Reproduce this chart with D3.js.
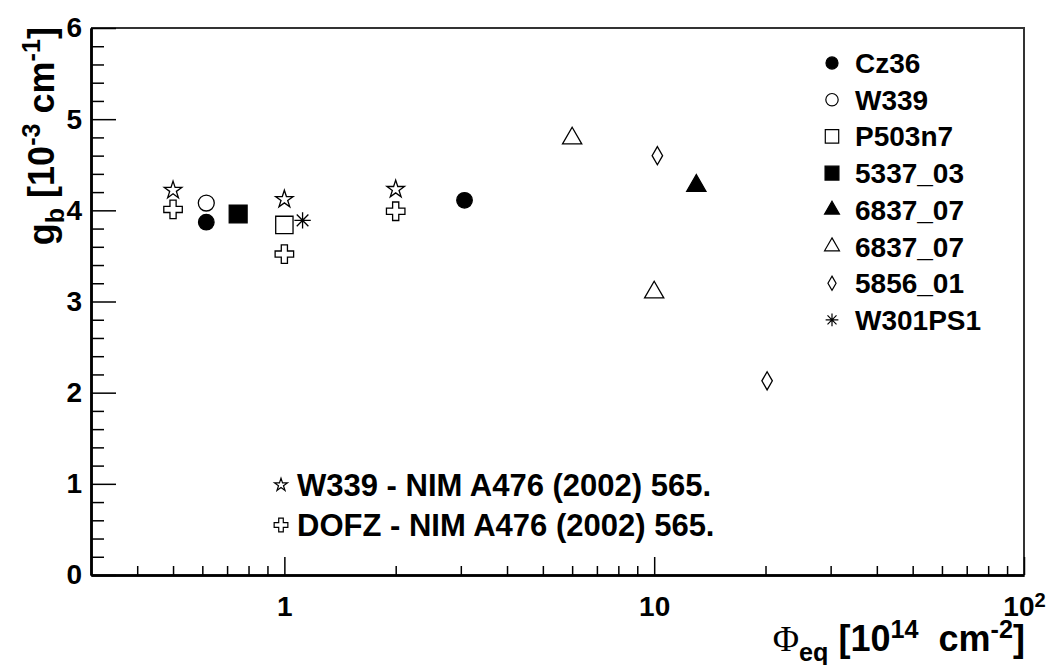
<!DOCTYPE html>
<html>
<head>
<meta charset="utf-8">
<script src="https://cdn.jsdelivr.net/npm/d3@7"></script>
<style>
  body { margin: 0; background: #fff; }
  svg { display: block; font-family: "Liberation Sans", Arial, sans-serif; font-weight: bold; }
  text { white-space: pre; }
</style>
</head>
<body>
<div id="chart"></div>
<script>
// Data: [fluence 1e14 cm^-2, g_b 1e-3 cm^-1]
const cz36 = [[0.615, 3.87], [3.07, 4.11]];
const w339 = [[0.615, 4.08]];
const p503n7 = [[1.0, 3.84]];
const s5337_03 = [[0.75, 3.96]];
const s6837_07_filled = [[13.0, 4.27]];
const s6837_07_open = [[6.0, 4.79], [10.0, 3.10]];
const s5856_01 = [[10.2, 4.60], [20.2, 2.13]];
const w301ps1 = [[1.12, 3.89]];
const w339Ref = [[0.5, 4.22], [1.0, 4.12], [2.0, 4.23]];
const dofzRef = [[0.5, 4.01], [1.0, 3.52], [2.0, 3.99]];

const xMajor = [1, 10, 100];
const xMinor = [0.4, 0.5, 0.6, 0.7, 0.8, 0.9, 2, 3, 4, 5, 6, 7, 8, 9, 20, 30, 40, 50, 60, 70, 80, 90];
const yMajor = [0, 1, 2, 3, 4, 5, 6];
const yMinor = d3.range(0, 30).map(i => +(i * 0.2).toFixed(1)).filter(v => v % 1 !== 0);

const legendNames = ['Cz36', 'W339', 'P503n7', '5337_03', '6837_07', '6837_07', '5856_01', 'W301PS1'];
const refNames = ['W339 - NIM A476 (2002) 565.', 'DOFZ - NIM A476 (2002) 565.'];

// Set up SVG dimensions
const width = 1049;
const height = 665;
const mLeft = 91, mRight = 1024, mTop = 28, mBottom = 575;

const svg = d3.select('#chart').append('svg')
    .attr('width', width)
    .attr('height', height);

const x = d3.scaleLog().domain([0.3, 100]).range([mLeft, mRight]);
const y = d3.scaleLinear().domain([0, 6]).range([mBottom, mTop]);

// asterisk marker (ROOT style *)
const asterisk = {
    draw(ctx, size) {
        const r = Math.sqrt(size) / 2;
        const d = r * Math.SQRT1_2;
        ctx.moveTo(-r, 0); ctx.lineTo(r, 0);
        ctx.moveTo(0, -r); ctx.lineTo(0, r);
        ctx.moveTo(-d, -d); ctx.lineTo(d, d);
        ctx.moveTo(-d, d); ctx.lineTo(d, -d);
    }
};

const series = [
    { name: legendNames[0], type: d3.symbolCircle, size: 190, fill: true, pts: cz36 },
    { name: legendNames[1], type: d3.symbolCircle, size: 200, fill: false, pts: w339 },
    { name: legendNames[2], type: d3.symbolSquare, size: 300, fill: false, pts: p503n7 },
    { name: legendNames[3], type: d3.symbolSquare, size: 320, fill: true, pts: s5337_03 },
    { name: legendNames[4], type: d3.symbolTriangle, size: 160, fill: true, pts: s6837_07_filled },
    { name: legendNames[5], type: d3.symbolTriangle, size: 160, fill: false, pts: s6837_07_open },
    { name: legendNames[6], type: d3.symbolDiamond, size: 95, fill: false, pts: s5856_01 },
    { name: legendNames[7], type: asterisk, size: 270, fill: false, pts: w301ps1 }
];
const refs = [
    { name: refNames[0], type: d3.symbolStar, size: 95, fill: false, pts: w339Ref },
    { name: refNames[1], type: d3.symbolCross, size: 190, fill: false, pts: dofzRef }
];

// Frame (top and right)
svg.append('path')
    .attr('d', `M${mLeft},${mTop}H${mRight}V${mBottom}`)
    .attr('fill', 'none')
    .attr('stroke', '#333')
    .attr('stroke-width', 2);

// X axis
function styleAxis(g) {
    g.attr('font-size', 28).attr('font-family', null);
    g.selectAll('.tick line').attr('stroke', '#000').attr('stroke-width', 1.5);
    g.select('.domain').attr('stroke', '#000').attr('stroke-width', 2.5);
    g.selectAll('.tick text').attr('fill', '#000');
}

svg.append('g')
    .attr('transform', `translate(0,${mBottom})`)
    .call(d3.axisBottom(x).tickValues(xMinor).tickSize(-9).tickSizeOuter(0).tickFormat(''))
    .call(styleAxis);

svg.append('g')
    .attr('transform', `translate(0,${mBottom})`)
    .call(d3.axisBottom(x).tickValues(xMajor).tickSize(-18).tickSizeOuter(0).tickPadding(21)
        .tickFormat(d => d === 100 ? '10' : d3.format('d')(d)))
    .call(styleAxis)
    .call(g => g.selectAll('.tick text').filter(d => d === 100)
        .append('tspan').attr('dy', '-0.45em').attr('font-size', '0.72em').text('2'));

// Y axis
svg.append('g')
    .attr('transform', `translate(${mLeft},0)`)
    .call(d3.axisLeft(y).tickValues(yMinor).tickSize(-13).tickSizeOuter(0).tickFormat(''))
    .call(styleAxis);

svg.append('g')
    .attr('transform', `translate(${mLeft},0)`)
    .call(d3.axisLeft(y).tickValues(yMajor).tickSize(-25).tickSizeOuter(0).tickPadding(9)
        .tickFormat(d3.format('d')))
    .call(styleAxis);

// Axis titles
const xt = svg.append('text')
    .attr('x', mRight + 1)
    .attr('y', 651)
    .attr('text-anchor', 'end')
    .attr('font-size', 36);
xt.append('tspan').attr('font-family', '"Liberation Serif", serif').attr('font-weight', 'normal').text('Φ');
xt.append('tspan').attr('font-size', '0.7em').attr('dy', '0.4em').text('eq');
xt.append('tspan').attr('dy', '-0.28em').text(' [10');
xt.append('tspan').attr('font-size', '0.7em').attr('dy', '-0.5em').text('14');
xt.append('tspan').attr('dy', '0.35em').text('  cm');
xt.append('tspan').attr('font-size', '0.7em').attr('dy', '-0.5em').text('-2');
xt.append('tspan').attr('dy', '0.35em').text(']');

const yt = svg.append('text')
    .attr('transform', 'translate(54,27) rotate(-90)')
    .attr('text-anchor', 'end')
    .attr('font-size', 36);
yt.append('tspan').text('g');
yt.append('tspan').attr('font-size', '0.7em').attr('dy', '0.4em').text('b');
yt.append('tspan').attr('dy', '-0.28em').text(' [10');
yt.append('tspan').attr('font-size', '0.7em').attr('dy', '-0.55em').text('-3');
yt.append('tspan').attr('dy', '0.385em').text(' cm');
yt.append('tspan').attr('font-size', '0.7em').attr('dy', '-0.55em').text('-1');
yt.append('tspan').attr('dy', '0.385em').text(']');

// Data markers
const sym = d3.symbol();
function drawMarkers(list) {
    list.forEach(s => {
        svg.append('g').selectAll('path')
            .data(s.pts)
            .enter().append('path')
            .attr('transform', d => `translate(${x(d[0])},${y(d[1])})`)
            .attr('d', sym.type(s.type).size(s.size)())
            .attr('fill', s.fill ? '#000' : '#fff')
            .attr('stroke', '#000')
            .attr('stroke-width', 1.3);
    });
}
drawMarkers(refs);
drawMarkers(series);

// Legend (top right)
const legend = svg.append('g').attr('transform', 'translate(832,63)');
const rows = legend.selectAll('g')
    .data(series)
    .enter().append('g')
    .attr('transform', (d, i) => `translate(0,${i * 36.7})`);
rows.append('path')
    .attr('d', d => sym.type(d.type).size(d.size * 0.6)())
    .attr('fill', d => d.fill ? '#000' : '#fff')
    .attr('stroke', '#000')
    .attr('stroke-width', 1.2);
rows.append('text')
    .attr('x', 23)
    .attr('y', 10)
    .attr('font-size', 28)
    .text(d => d.name);

// Reference legend (bottom)
const refLegend = svg.append('g').attr('transform', 'translate(281,485)');
const refRows = refLegend.selectAll('g')
    .data(refs)
    .enter().append('g')
    .attr('transform', (d, i) => `translate(0,${i * 40})`);
refRows.append('path')
    .attr('d', d => sym.type(d.type).size(d.size * 0.55)())
    .attr('fill', '#fff')
    .attr('stroke', '#000')
    .attr('stroke-width', 1.2);
refRows.append('text')
    .attr('x', 16)
    .attr('y', 11)
    .attr('font-size', 31)
    .text(d => d.name);
</script>
</body>
</html>
